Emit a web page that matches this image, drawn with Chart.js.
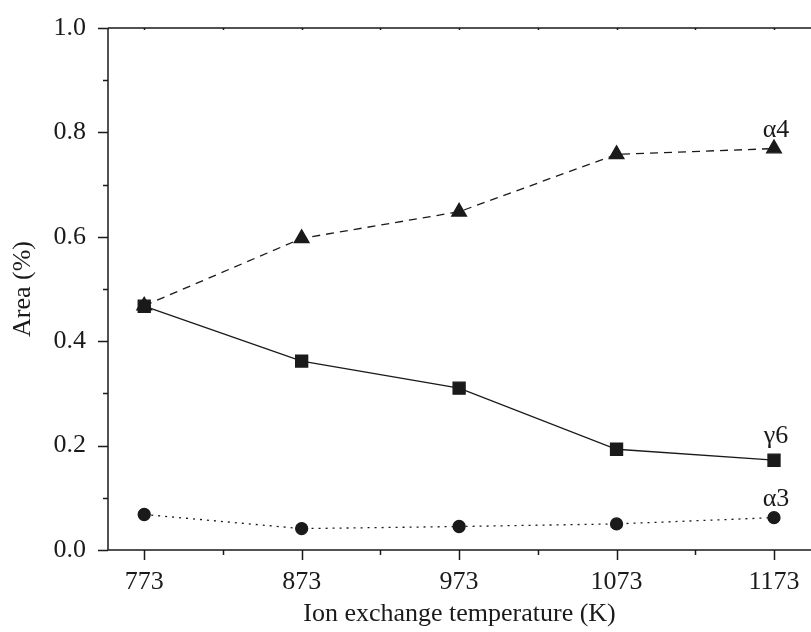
<!DOCTYPE html>
<html>
<head>
<meta charset="utf-8">
<script src="https://cdn.jsdelivr.net/npm/chart.js@4.4.0/dist/chart.umd.min.js"></script>
<style>
  html, body { margin: 0; padding: 0; background: #fff; }
  #wrap { width: 811px; height: 632px; }
</style>
</head>
<body>
<div id="wrap"><canvas id="areaChart" width="811" height="632"></canvas></div>
<script>
// temperatures (K) and peak areas
var temps = [773, 873, 973, 1073, 1173];
var alpha4 = [0.468, 0.597, 0.648, 0.758, 0.769];
var gamma6 = [0.467, 0.362, 0.310, 0.193, 0.172];
var alpha3 = [0.068, 0.041, 0.045, 0.050, 0.062];
var seriesNames = ['\u03b14', '\u03b36', '\u03b13'];
var xTickValues = [773, 823, 873, 923, 973, 1023, 1073, 1123, 1173];
var yTickValues = [0, 0.1, 0.2, 0.3, 0.4, 0.5, 0.6, 0.7, 0.8, 0.9, 1.0];

var INK = '#1a1a1a';
var FONT = '"Liberation Serif", "DejaVu Serif", serif';

function pts(ys) {
    return temps.map(function (t, i) { return { x: t, y: ys[i] }; });
}

// axes frame, ticks and end-of-line labels
var framePlugin = {
    id: 'frame',
    afterDraw: function (chart) {
        var ctx = chart.ctx, a = chart.chartArea;
        var xs = chart.scales.x, ys = chart.scales.y;
        ctx.save();
        ctx.strokeStyle = INK;
        ctx.lineWidth = 1.5;
        ctx.beginPath();
        ctx.moveTo(a.left, a.top); ctx.lineTo(a.left, a.bottom);
        ctx.moveTo(a.left, a.bottom); ctx.lineTo(a.right, a.bottom);
        ctx.moveTo(a.left, a.top); ctx.lineTo(a.right, a.top);
        xTickValues.forEach(function (v, i) {
            var px = Math.round(xs.getPixelForValue(v)) + 0.5;
            var len = (i % 2 === 0) ? 10 : 5;
            ctx.moveTo(px, a.bottom); ctx.lineTo(px, a.bottom + len);
            ctx.moveTo(px, a.top); ctx.lineTo(px, a.top + 2);
        });
        yTickValues.forEach(function (v, i) {
            var py = Math.round(ys.getPixelForValue(v)) + 0.5;
            var len = (i % 2 === 0) ? 10 : 5;
            ctx.moveTo(a.left, py); ctx.lineTo(a.left - len, py);
        });
        ctx.stroke();

        ctx.fillStyle = INK;
        ctx.font = '26px ' + FONT;
        ctx.textAlign = 'center';
        ctx.textBaseline = 'alphabetic';
        chart.data.datasets.forEach(function (ds, i) {
            var meta = chart.getDatasetMeta(i);
            var last = meta.data[meta.data.length - 1];
            var off = i === 1 ? 17 : 12;
            ctx.fillText(seriesNames[i], last.x + 2, last.y - off);
        });
        ctx.restore();
    }
};

new Chart(document.getElementById('areaChart').getContext('2d'), {
    type: 'scatter',
    data: {
        datasets: [{
            label: seriesNames[0],
            data: pts(alpha4),
            showLine: true,
            borderColor: INK,
            backgroundColor: INK,
            borderWidth: 1.3,
            borderDash: [8, 6],
            pointStyle: 'triangle',
            pointRadius: 8.5,
            pointHoverRadius: 8.5
        }, {
            label: seriesNames[1],
            data: pts(gamma6),
            showLine: true,
            borderColor: INK,
            backgroundColor: INK,
            borderWidth: 1.3,
            pointStyle: 'rect',
            pointRadius: 8.5,
            pointHoverRadius: 8.5
        }, {
            label: seriesNames[2],
            data: pts(alpha3),
            showLine: true,
            borderColor: INK,
            backgroundColor: INK,
            borderWidth: 1.3,
            borderDash: [2, 5],
            pointStyle: 'circle',
            pointRadius: 6,
            pointHoverRadius: 6
        }]
    },
    options: {
        responsive: false,
        animation: false,
        layout: { autoPadding: false, padding: { top: 28, right: 0, left: 0, bottom: 0 } },
        plugins: {
            legend: { display: false },
            tooltip: { enabled: false }
        },
        scales: {
            x: {
                type: 'linear',
                min: 750,
                max: 1196.5,
                grid: { display: false },
                border: { display: false },
                afterBuildTicks: function (scale) {
                    scale.ticks = xTickValues.map(function (v) { return { value: v }; });
                },
                afterFit: function (scale) {
                    scale.height = 82;
                    scale.paddingLeft = 0;
                    scale.paddingRight = 0;
                },
                ticks: {
                    color: INK,
                    padding: 9,
                    maxRotation: 0,
                    autoSkip: false,
                    font: { family: FONT, size: 26 },
                    callback: function (v) { return (v - 773) % 100 === 0 ? String(v) : ''; }
                },
                title: {
                    display: true,
                    text: 'Ion exchange temperature (K)',
                    color: INK,
                    font: { family: FONT, size: 26 },
                    padding: { top: 0, bottom: 2 }
                }
            },
            y: {
                min: 0,
                max: 1,
                grid: { display: false },
                border: { display: false },
                afterBuildTicks: function (scale) {
                    scale.ticks = yTickValues.map(function (v) { return { value: v }; });
                },
                afterFit: function (scale) {
                    scale.width = 108;
                    scale.paddingTop = 0;
                    scale.paddingBottom = 0;
                },
                ticks: {
                    color: INK,
                    padding: 14,
                    autoSkip: false,
                    font: { family: FONT, size: 26 },
                    callback: function (v, i) { return i % 2 === 0 ? v.toFixed(1) : ''; }
                },
                title: {
                    display: true,
                    text: 'Area (%)',
                    color: INK,
                    font: { family: FONT, size: 26 },
                    padding: { top: 8, bottom: 10 }
                }
            }
        }
    },
    plugins: [framePlugin]
});
</script>
</body>
</html>
